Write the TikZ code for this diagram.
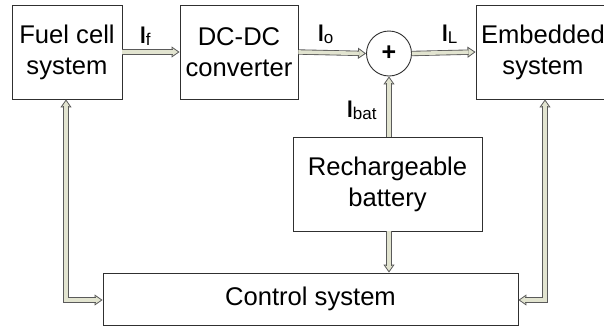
\documentclass[tikz,border=0pt]{standalone}
\usepackage{fontspec}
\setmainfont{Liberation Sans}
\usetikzlibrary{arrows.meta}
\definecolor{arrfill}{HTML}{E2E4D0}
\definecolor{arredge}{HTML}{5A5A5A}
\definecolor{boxedge}{HTML}{303030}
\tikzset{
  blk/.style={draw=boxedge, line width=0.9pt, inner sep=0pt, align=center,
    font=\fontsize{25.6}{31}\selectfont},
  tipA/.style={draw=arredge, line width=0.8pt,
    -{Triangle[open, fill=arrfill, length=8pt 0 0, width=11pt 0 0]}},
  tipB/.style={draw=arredge, line width=0.8pt,
    {Triangle[open, fill=arrfill, length=8pt 0 0, width=11pt 0 0]}-{Triangle[open, fill=arrfill, length=8pt 0 0, width=11pt 0 0]}},
  shaft/.style={draw=arredge, line width=0.85pt, double=arrfill, double distance=3.6pt},
  shaftA/.style={shaft, shorten >=7pt},
  shaftB/.style={shaft, shorten >=7pt, shorten <=7pt},
  lbl/.style={anchor=base west, inner sep=0pt, font=\fontsize{24}{24}\selectfont\bfseries}
}
\newcommand{\subsc}[1]{\raisebox{-0.12em}{\fontsize{17}{17}\selectfont\mdseries #1}}
\newcommand{\bigI}{\scalebox{0.85}[1]{I}}
\begin{document}
\begin{tikzpicture}[x=1pt,y=-1pt]
\useasboundingbox (0,0) rectangle (604,330);
\clip (0,0) rectangle (604,330);
\fill[white] (0,0) rectangle (604,330);
\node[blk, minimum width=110pt, minimum height=94pt] (fuel) at (67,52) {Fuel cell\\system};
\node[blk, minimum width=118pt, minimum height=94pt] (dcdc) at (239,52) {DC-DC\\converter};
\node[blk, minimum width=134pt, minimum height=94pt] (emb) at (543,52) {Embedded\\system};
\node[draw=boxedge, line width=0.9pt, circle, minimum size=45pt, inner sep=0pt, font=\fontsize{25}{25}\selectfont\bfseries] (sum) at (389,53.5) {+};
\node[blk, minimum width=189pt, minimum height=94pt] (bat) at (387.5,184) {Rechargeable\\battery};
\node[blk, minimum width=415pt, minimum height=52pt] (ctrl) at (310.5,299) {Control system};
\coordinate (cl) at (66,300);
\coordinate (cr) at (545,300);
% tips first, then shafts
\draw[tipA] (fuel.east) -- (dcdc.west);
\draw[shaftA] (fuel.east) -- (dcdc.west);
\draw[tipA] (dcdc.east) -- (sum.west);
\draw[shaftA] (dcdc.east) -- (sum.west);
\draw[tipA] (sum.east) -- (emb.west);
\draw[shaftA] (sum.east) -- (emb.west);
\draw[tipA] (bat.north -| sum.south) -- (sum.south);
\draw[shaftA] (bat.north -| sum.south) -- (sum.south);
\draw[tipA] (bat.south -| sum.south) -- (ctrl.north -| sum.south);
\draw[shaftA] (bat.south -| sum.south) -- (ctrl.north -| sum.south);
\draw[tipB] (fuel.south -| cl) -- (cl) -- (ctrl.west |- cl);
\draw[shaftB] (fuel.south -| cl) -- (cl) -- (ctrl.west |- cl);
\draw[tipB] (emb.south -| cr) -- (cr) -- (ctrl.east |- cr);
\draw[shaftB] (emb.south -| cr) -- (cr) -- (ctrl.east |- cr);
\node[lbl] (lf) at (140,43) {\bigI\subsc{f}};
\node[lbl] (lo) at (318,41) {\bigI\subsc{o}};
\node[lbl] (lL) at (442,41) {\bigI\subsc{L}};
\node[lbl] (lbat) at (347,117) {\bigI\subsc{bat}};
\end{tikzpicture}
\end{document}
